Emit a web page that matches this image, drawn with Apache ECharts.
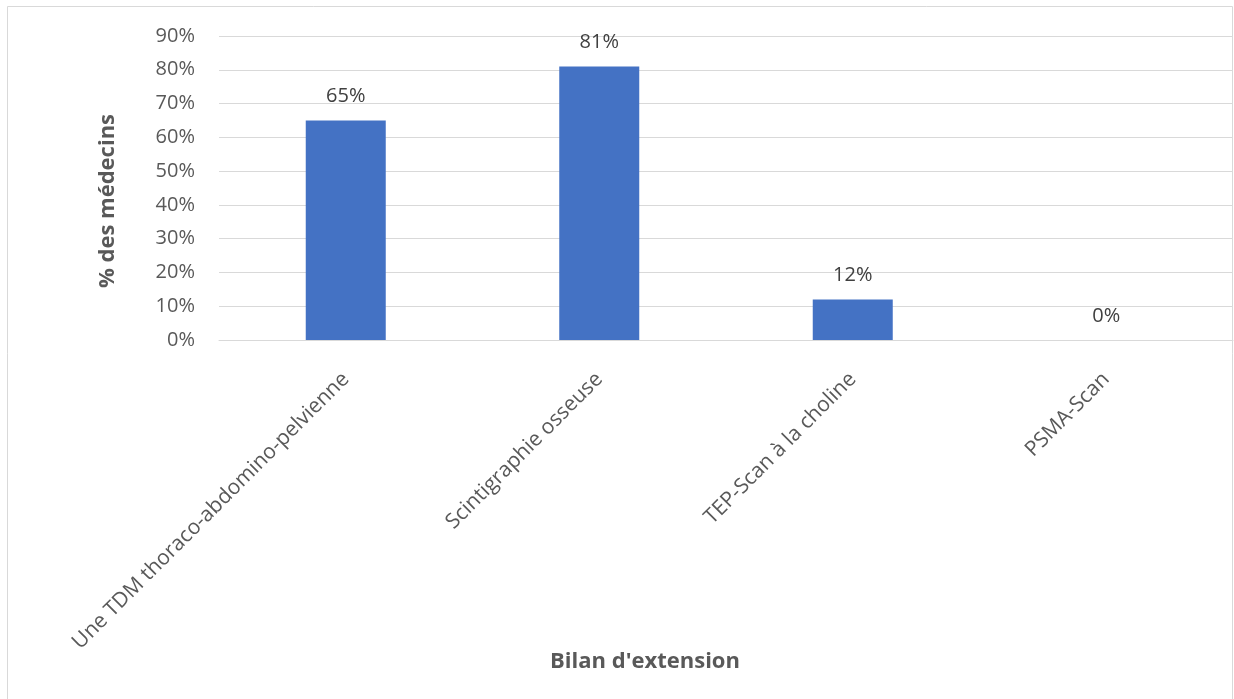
<!DOCTYPE html>
<html>
<head>
<meta charset="utf-8">
<script src="https://cdn.jsdelivr.net/npm/echarts@6/dist/echarts.min.js"></script>
<style>
  html, body { margin: 0; padding: 0; background: #ffffff; }
  #chart { width: 1234px; height: 699px; }
</style>
</head>
<body>
<div id="chart"></div>
<script>
// Examens du bilan d'extension demandés (% des médecins)
const categories = [
  'Une TDM thoraco-abdomino-pelvienne',
  'Scintigraphie osseuse',
  'TEP-Scan à la choline',
  'PSMA-Scan'
];
const values = [65, 81, 12, 0];
const yTicks = { min: 0, max: 90, interval: 10 };
const yTitle = '% des médecins';
const xTitle = "Bilan d'extension";

const FONT = '"Open Sans", "DejaVu Sans", sans-serif';
const chart = echarts.init(document.getElementById('chart'), null, { renderer: 'canvas' });

chart.setOption({
  backgroundColor: '#ffffff',
  animation: false,
  grid: { left: 219, right: 1, top: 36, bottom: 359, containLabel: false },
  xAxis: {
    type: 'category',
    data: categories,
    axisLine: { show: true, lineStyle: { color: '#d9d9d9', width: 1 } },
    axisTick: { show: false },
    axisLabel: {
      rotate: 45,
      margin: 36,
      interval: 0,
      color: '#595959',
      fontFamily: FONT,
      fontSize: 21
    }
  },
  yAxis: {
    type: 'value',
    min: yTicks.min,
    max: yTicks.max,
    interval: yTicks.interval,
    axisLine: { show: false },
    axisTick: { show: false },
    splitLine: { show: true, lineStyle: { color: '#d9d9d9', width: 1 } },
    axisLabel: {
      formatter: '{value}%',
      margin: 24,
      color: '#595959',
      fontFamily: FONT,
      fontSize: 20
    }
  },
  series: [{
    type: 'bar',
    data: values,
    barWidth: 80,
    itemStyle: { color: '#4472c4' },
    label: {
      show: true,
      position: 'top',
      distance: 14,
      formatter: '{c}%',
      color: '#404040',
      fontFamily: FONT,
      fontSize: 20
    }
  }],
  graphic: [
    {
      type: 'rect',
      silent: true,
      shape: { x: 7.5, y: 6.5, width: 1225, height: 720 },
      style: { fill: 'none', stroke: '#d9d9d9', lineWidth: 1 }
    },
    {
      type: 'text',
      silent: true,
      x: 108, y: 201,
      rotation: Math.PI / 2,
      style: {
        text: yTitle,
        fill: '#595959',
        font: 'bold 22px ' + FONT,
        align: 'center',
        verticalAlign: 'middle'
      }
    },
    {
      type: 'text',
      silent: true,
      x: 645, y: 662,
      style: {
        text: xTitle,
        fill: '#595959',
        font: 'bold 22px ' + FONT,
        align: 'center',
        verticalAlign: 'middle'
      }
    }
  ]
});
</script>
</body>
</html>
